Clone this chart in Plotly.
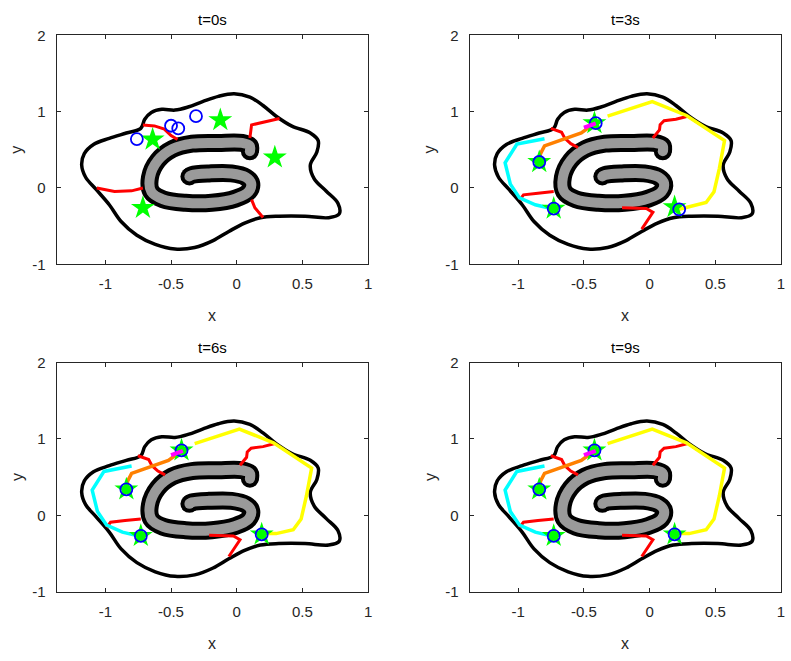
import plotly.graph_objects as go

# ---------------- data ----------------
titles = ["t=0s", "t=3s", "t=6s", "t=9s"]
x_tick_vals = [-1, -0.5, 0, 0.5, 1]
x_tick_text = ["-1", "-0.5", "0", "0.5", "1"]
y_tick_vals = [-1, 0, 1, 2]
y_tick_text = ["-1", "0", "1", "2"]

boundary_x = [-1.18, -1.16, -1.09, -0.97, -0.84, -0.73, -0.70, -0.65, -0.57, -0.47, -0.37, -0.26,
              -0.14, -0.02, 0.10, 0.20, 0.30, 0.42, 0.56, 0.62, 0.61, 0.56, 0.59, 0.68, 0.77, 0.78,
              0.70, 0.52, 0.32, 0.18, 0.06, -0.06, -0.18, -0.32, -0.47, -0.62, -0.76, -0.88, -0.97,
              -1.07, -1.15, -1.18]
boundary_y = [0.30, 0.45, 0.57, 0.65, 0.72, 0.78, 0.90, 0.99, 1.03, 1.02, 1.06, 1.13,
              1.20, 1.235, 1.19, 1.08, 0.94, 0.81, 0.72, 0.62, 0.47, 0.30, 0.12, -0.04, -0.20, -0.34,
              -0.39, -0.37, -0.37, -0.39, -0.46, -0.57, -0.69, -0.78, -0.80, -0.74, -0.62, -0.44, -0.22,
              -0.02, 0.14, 0.30]

spiral_x = [0.10, 0.10, 0.04, -0.14, -0.34, -0.49, -0.60, -0.66, -0.65, -0.56, -0.39, -0.19,
            -0.01, 0.09, 0.11, 0.07, -0.04, -0.21, -0.34, -0.36]
spiral_y = [0.48, 0.55, 0.59, 0.59, 0.58, 0.51, 0.36, 0.14, -0.05, -0.15, -0.195, -0.195,
            -0.14, -0.05, 0.06, 0.14, 0.19, 0.19, 0.17, 0.15]

# red partition lines, t=0
red0_a_x = [-1.065, -0.93, -0.80, -0.714]
red0_a_y = [0.0, -0.047, -0.038, 0.0]
red0_b_x = [-0.714, -0.626, -0.551, -0.50, -0.451]
red0_b_y = [0.826, 0.813, 0.77, 0.686, 0.635]
red0_c_x = [0.326, 0.226, 0.113, 0.10]
red0_c_y = [0.91, 0.868, 0.826, 0.655]
red0_d_x = [0.113, 0.138, 0.20]
red0_d_y = [-0.153, -0.26, -0.387]

# red partition lines, t=3,6,9
red1_a_x = [-0.752, -0.67, -0.645, -0.60, -0.545]
red1_a_y = [0.78, 0.73, 0.65, 0.58, 0.53]
red1_b_x = [-0.99, -0.96, -0.85, -0.73]
red1_b_y = [-0.16, -0.09, -0.068, -0.047]
red1_c_x = [-0.21, -0.025, 0.025, -0.01, -0.03, -0.06]
red1_c_y = [-0.26, -0.27, -0.32, -0.41, -0.46, -0.54]
red1_d_x = [0.29, 0.20, 0.11, 0.08, 0.075, 0.05, 0.025]
red1_d_y = [0.94, 0.90, 0.88, 0.83, 0.76, 0.70, 0.655]

# agent trajectories (t=3,6,9)
cyan_x = [-0.80, -1.01, -1.10, -1.06, -0.99, -0.87, -0.75]
cyan_y = [0.645, 0.575, 0.33, 0.05, -0.13, -0.22, -0.27]
orange_x = [-0.84, -0.83, -0.80, -0.70, -0.60, -0.52, -0.44]
orange_y = [0.34, 0.45, 0.55, 0.61, 0.66, 0.72, 0.82]
magenta_x = [-0.50, -0.41]
magenta_y = [0.79, 0.845]
yellow_x_t3 = [-0.32, 0.02, 0.28, 0.40, 0.57, 0.53, 0.49, 0.43, 0.30, 0.225]
yellow_y_t3 = [0.94, 1.13, 0.95, 0.81, 0.62, 0.25, -0.05, -0.19, -0.25, -0.28]
yellow_x_t6 = [-0.32, 0.02, 0.28, 0.40, 0.57, 0.53, 0.49, 0.43, 0.30, 0.19]
yellow_y_t6 = [0.94, 1.13, 0.95, 0.81, 0.62, 0.25, -0.05, -0.19, -0.24, -0.24]

# goals (stars) and agents (circles)
star_x_t0 = [-0.64, -0.125, 0.29, -0.714]
star_y_t0 = [0.635, 0.89, 0.40, -0.26]
circ_x_t0 = [-0.76, -0.50, -0.445, -0.31]
circ_y_t0 = [0.64, 0.815, 0.78, 0.94]
star_x_t3 = [-0.42, -0.84, -0.73, 0.19]
star_y_t3 = [0.85, 0.34, -0.27, -0.25]
circ_x_t3 = [-0.41, -0.84, -0.73, 0.225]
circ_y_t3 = [0.85, 0.34, -0.27, -0.28]
circ_x_t6 = [-0.42, -0.84, -0.73, 0.19]
circ_y_t6 = [0.85, 0.34, -0.27, -0.25]

# ---------------- figure ----------------
W, H = 791, 661
x_dom = [[57 / W, 370 / W], [472 / W, 785 / W]]
y_dom = [[1 - 262 / H, 1 - 27 / H], [1 - 598 / H, 1 - 363 / H]]
AX = "#262626"
FONT = "Liberation Sans, Arial, sans-serif"

fig = go.Figure()

frames = []
frames.append(dict(
    reds=[(red0_a_x, red0_a_y), (red0_b_x, red0_b_y), (red0_c_x, red0_c_y), (red0_d_x, red0_d_y)],
    paths=[], stars=(star_x_t0, star_y_t0), circs=(circ_x_t0, circ_y_t0), magenta=False))
reds1 = [(red1_a_x, red1_a_y), (red1_b_x, red1_b_y), (red1_c_x, red1_c_y), (red1_d_x, red1_d_y)]
frames.append(dict(reds=reds1,
                   paths=[(cyan_x, cyan_y, "#00FFFF"), (orange_x, orange_y, "#FF8000"),
                          (yellow_x_t3, yellow_y_t3, "#FFFF00")],
                   stars=(star_x_t3, star_y_t3), circs=(circ_x_t3, circ_y_t3), magenta=True))
for _ in range(2):
    frames.append(dict(reds=reds1,
                       paths=[(cyan_x, cyan_y, "#00FFFF"), (orange_x, orange_y, "#FF8000"),
                              (yellow_x_t6, yellow_y_t6, "#FFFF00")],
                       stars=(star_x_t3, star_y_t3), circs=(circ_x_t6, circ_y_t6), magenta=True))

layout = dict(width=W, height=H, margin=dict(l=0, r=0, t=0, b=0),
              paper_bgcolor="white", plot_bgcolor="white", showlegend=False,
              hovermode=False, font=dict(family=FONT, color=AX, size=15))
annotations = []

for i, fr in enumerate(frames):
    col = i % 2
    row = i // 2
    n = "" if i == 0 else str(i + 1)
    xa, ya = "x" + n, "y" + n
    common = dict(showgrid=False, zeroline=False, showline=True, linecolor=AX, linewidth=1,
                  mirror="ticks", ticks="inside", ticklen=4, tickcolor=AX, tickwidth=1,
                  tickfont=dict(family=FONT, size=15, color=AX))
    layout["xaxis" + n] = dict(domain=x_dom[col], range=[-1.37, 1.0], anchor=ya,
                               tickvals=x_tick_vals, ticktext=x_tick_text,
                               ticklabelstandoff=6, **common)
    layout["yaxis" + n] = dict(domain=y_dom[row], range=[-1, 2], anchor=xa,
                               tickvals=y_tick_vals, ticktext=y_tick_text,
                               ticklabelstandoff=7, **common)

    # boundary
    fig.add_trace(go.Scatter(x=boundary_x, y=boundary_y, mode="lines", xaxis=xa, yaxis=ya,
                             line=dict(color="black", width=3.5, shape="spline", smoothing=1.0)))
    # spiral obstacle
    fig.add_trace(go.Scatter(x=spiral_x, y=spiral_y, mode="lines", xaxis=xa, yaxis=ya,
                             line=dict(color="black", width=18, shape="spline")))
    fig.add_trace(go.Scatter(x=[spiral_x[0], spiral_x[-1]], y=[spiral_y[0], spiral_y[-1]],
                             mode="markers", xaxis=xa, yaxis=ya,
                             marker=dict(color="black", size=18, line=dict(width=0))))
    fig.add_trace(go.Scatter(x=spiral_x, y=spiral_y, mode="lines", xaxis=xa, yaxis=ya,
                             line=dict(color="#9a9a9a", width=10, shape="spline")))
    fig.add_trace(go.Scatter(x=[spiral_x[0], spiral_x[-1]], y=[spiral_y[0], spiral_y[-1]],
                             mode="markers", xaxis=xa, yaxis=ya,
                             marker=dict(color="#9a9a9a", size=10, line=dict(width=0))))
    # red partition lines
    for rx, ry in fr["reds"]:
        fig.add_trace(go.Scatter(x=rx, y=ry, mode="lines", xaxis=xa, yaxis=ya,
                                 line=dict(color="#FF0000", width=3)))
    # trajectories
    for px, py, c in fr["paths"]:
        fig.add_trace(go.Scatter(x=px, y=py, mode="lines", xaxis=xa, yaxis=ya,
                                 line=dict(color=c, width=3.5)))
    # goals
    sx, sy = fr["stars"]
    fig.add_trace(go.Scatter(x=sx, y=sy, mode="markers", xaxis=xa, yaxis=ya,
                             marker=dict(symbol="star", size=18, color="#00FF00",
                                         line=dict(width=0))))
    # agents
    cx, cy = fr["circs"]
    fig.add_trace(go.Scatter(x=cx, y=cy, mode="markers", xaxis=xa, yaxis=ya,
                             marker=dict(symbol="circle-open", size=12, color="#0000FF",
                                         line=dict(width=1.8, color="#0000FF"))))
    if fr["magenta"]:
        fig.add_trace(go.Scatter(x=magenta_x, y=magenta_y, mode="lines", xaxis=xa, yaxis=ya,
                                 line=dict(color="#FF00FF", width=4)))

    xc = (x_dom[col][0] + x_dom[col][1]) / 2
    top = y_dom[row][1]
    bot = y_dom[row][0]
    annotations.append(dict(text=titles[i], x=xc, y=top + 16 / H, xref="paper", yref="paper",
                            xanchor="center", yanchor="middle", showarrow=False,
                            font=dict(family=FONT, size=15, color="black")))
    annotations.append(dict(text="x", x=xc, y=bot - 53 / H, xref="paper", yref="paper",
                            xanchor="center", yanchor="middle", showarrow=False,
                            font=dict(family=FONT, size=16, color=AX)))
    annotations.append(dict(text="y", x=x_dom[col][0] - 40 / W, y=(top + bot) / 2,
                            xref="paper", yref="paper", textangle=-90,
                            xanchor="center", yanchor="middle", showarrow=False,
                            font=dict(family=FONT, size=16, color=AX)))

layout["annotations"] = annotations
fig.update_layout(**layout)
fig.write_html("out.html", config={"displayModeBar": False},
               post_script="document.body.style.margin='0';document.body.style.overflow='hidden';")
